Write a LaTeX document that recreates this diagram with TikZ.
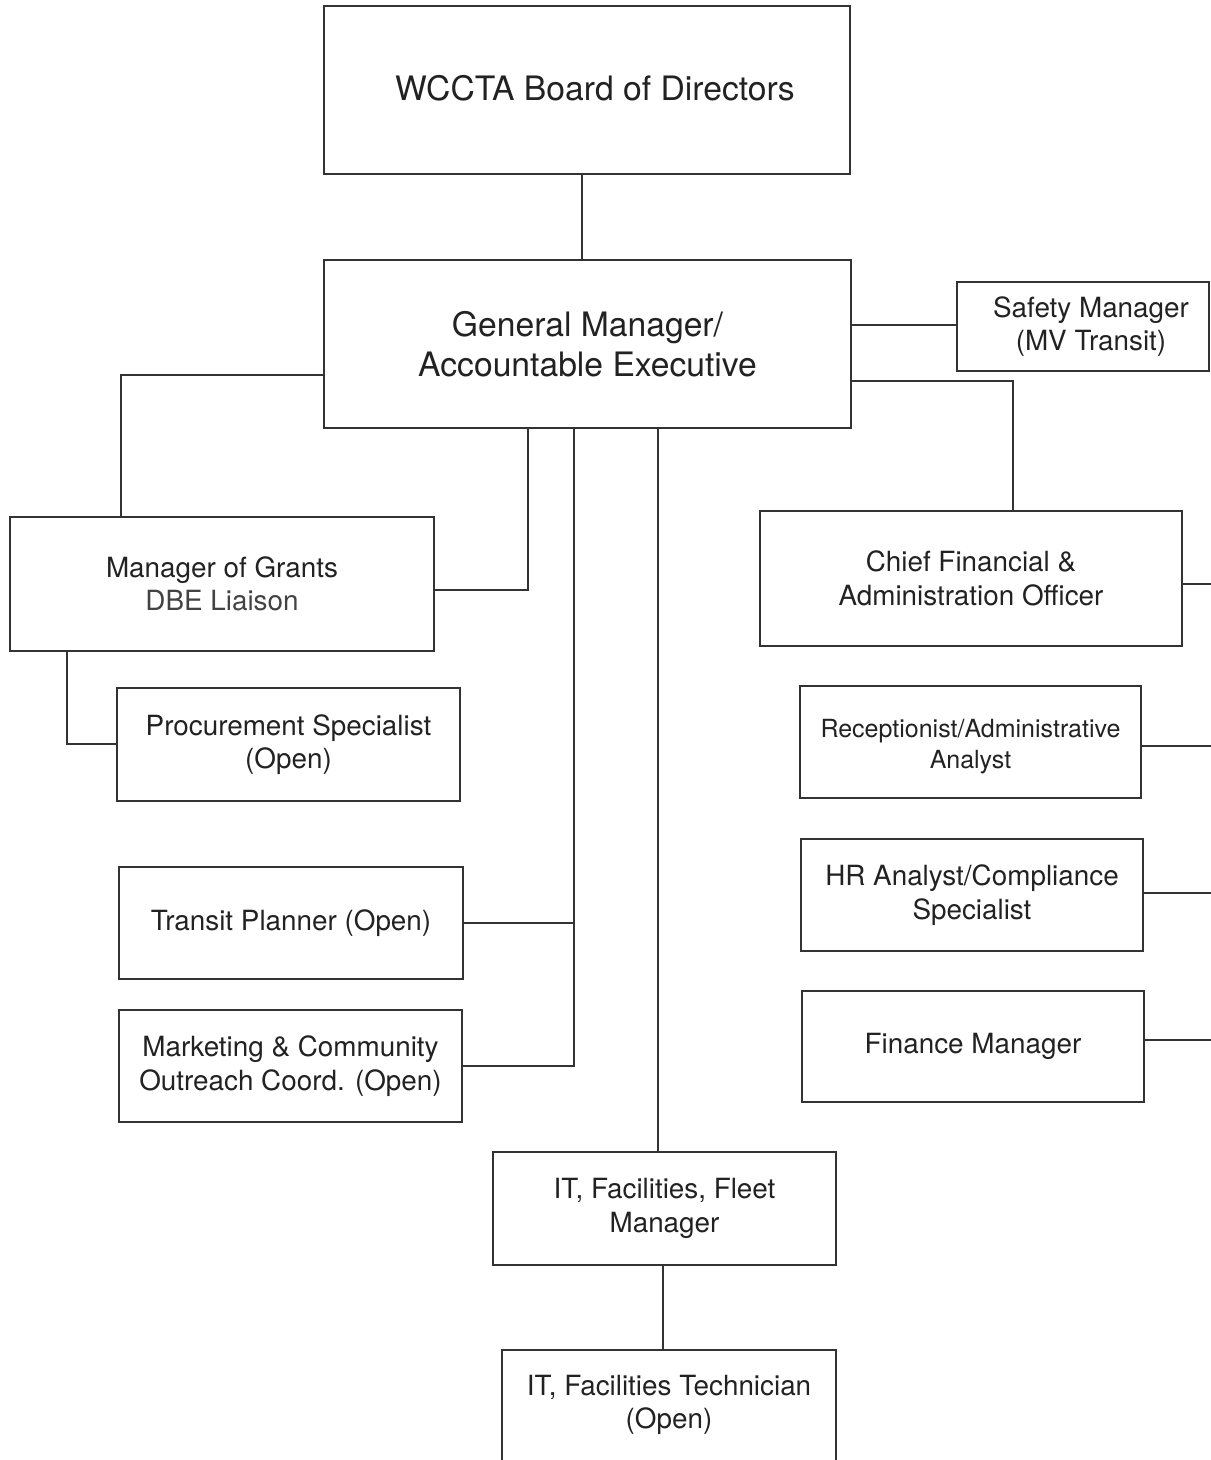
\documentclass[tikz,border=0pt]{standalone}
\usepackage{fontspec}
\setmainfont{TeX Gyre Heros}
\definecolor{ink}{HTML}{222222}
\definecolor{lin}{HTML}{333333}
\begin{document}
\begin{tikzpicture}[x=0.6pt,y=-0.6pt,
  box/.style={draw=lin, line width=1.3pt, inner sep=0pt, align=center, text=ink},
  big/.style={font=\fontsize{20.2}{24}\selectfont},
  sml/.style={font=\fontsize{16.7}{20}\selectfont},
  tiny/.style={font=\fontsize{15}{18.6}\selectfont},
  conn/.style={draw=lin, line width=1.3pt, line join=miter}]
\useasboundingbox (0,0) rectangle (1211,1460);
\clip (0,0) rectangle (1211,1460);
\fill[white] (0,0) rectangle (1211,1460);

\node[box,big,minimum width=315.6pt,minimum height=100.8pt] (board) at (587,90) {\hspace*{9.6pt}WCCTA Board of Directors\raisebox{0pt}[0pt][2pt]{}};
\node[box,big,minimum width=316.2pt,minimum height=100.8pt] (gm) at (587.5,344) {General Manager/\\Accountable Executive};
\node[box,sml,minimum width=151.2pt,minimum height=53.4pt] (safety) at (1083,326.5) {\hspace*{9.6pt}Safety Manager\\\hspace*{9.6pt}(MV Transit)};
\node[box,sml,minimum width=254.4pt,minimum height=80.4pt] (grants) at (222,584) {Manager of Grants\\\textcolor{ink!85}{DBE Liaison}};
\node[box,sml,minimum width=205.8pt,minimum height=67.8pt] (proc) at (288.5,744.5) {Procurement Specialist\\(Open)};
\node[box,sml,minimum width=206.4pt,minimum height=67.2pt] (transit) at (291,923) {Transit Planner (Open)};
\node[box,sml,minimum width=205.8pt,minimum height=67.2pt] (mkt) at (290.5,1066) {Marketing \& Community\\Outreach Coord. (Open)};
\node[box,sml,minimum width=205.8pt,minimum height=67.8pt] (itf) at (664.5,1208.5) {IT, Facilities, Fleet\\Manager};
\node[box,minimum width=200.4pt,minimum height=72pt] (itt) at (669,1410) {};
\node[sml,text=ink,align=center] (itttext) at (669,1405) {IT, Facilities Technician\\(Open)};
\node[box,sml,minimum width=253.2pt,minimum height=81pt] (cfo) at (971,578.5) {Chief Financial \&\\Administration Officer};
\node[box,tiny,minimum width=204.6pt,minimum height=67.2pt] (rec) at (970.5,742) {\raisebox{0pt}[17pt][0pt]{}Receptionist/Administrative\\Analyst};
\node[box,sml,minimum width=205.2pt,minimum height=67.2pt] (hr) at (972,895) {HR Analyst/Compliance\\Specialist};
\node[box,sml,minimum width=205.2pt,minimum height=66.6pt] (fin) at (973,1046.5) {Finance Manager};

\coordinate (e1) at (1211,584);
\coordinate (e2) at (1211,746);
\coordinate (e3) at (1211,893);
\coordinate (e4) at (1211,1040);

\draw[conn] (board.south -| 582,0) -- (gm.north -| 582,0);
\draw[conn] (gm.east |- 0,325) -- (safety.west |- 0,325);
\draw[conn] (gm.west |- 0,375) -| (grants.north -| 121,0);
\draw[conn] (gm.south -| 528,0) |- (grants.east |- 0,590);
\draw[conn] (gm.south -| 574,0) |- (mkt.east);
\draw[conn] (transit.east) -- (transit.east -| 574,0);
\draw[conn] (gm.south -| 658,0) -- (itf.north -| 658,0);
\draw[conn] (gm.east |- 0,381) -| (cfo.north -| 1013,0);
\draw[conn] (grants.south -| 67,0) |- (proc.west |- 0,744);
\draw[conn] (itf.south -| 663,0) -- (itt.north -| 663,0);
\draw[conn] (cfo.east |- e1) -- (e1);
\draw[conn] (rec.east |- e2) -- (e2);
\draw[conn] (hr.east |- e3) -- (e3);
\draw[conn] (fin.east |- e4) -- (e4);
\end{tikzpicture}
\end{document}
